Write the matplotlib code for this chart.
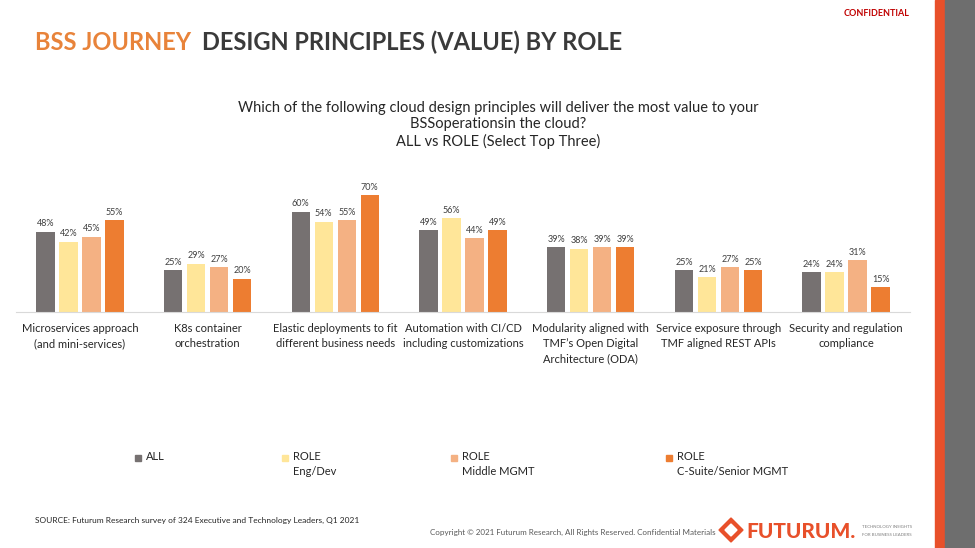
import matplotlib.pyplot as plt
import numpy as np
from matplotlib.patches import Rectangle, Polygon

plt.rcParams['font.family'] = ['Lato', 'DejaVu Sans']

categories = [
    'Microservices approach\n(and mini-services)',
    'K8s container\norchestration',
    'Elastic deployments to fit\ndifferent business needs',
    'Automation with CI/CD\nincluding customizations',
    'Modularity aligned with\nTMF\u2019s Open Digital\nArchitecture (ODA)',
    'Service exposure through\nTMF aligned REST APIs',
    'Security and regulation\ncompliance',
]
all_vals = [48, 25, 60, 49, 39, 25, 24]
eng_dev = [42, 29, 54, 56, 38, 21, 24]
middle_mgmt = [45, 27, 55, 44, 39, 27, 31]
csuite = [55, 20, 70, 49, 39, 25, 15]

series = [all_vals, eng_dev, middle_mgmt, csuite]
series_labels = ['ALL', 'ROLE\nEng/Dev', 'ROLE\nMiddle MGMT', 'ROLE\nC-Suite/Senior MGMT']
colors = ['#767171', '#FFE699', '#F4B183', '#ED7D31']

fig = plt.figure(figsize=(9.75, 5.48), dpi=100)
W, H = 975, 548

# right decoration stripes
fig.patches.append(Rectangle((935 / W, 0), 10 / W, 1, transform=fig.transFigure, color='#E8502A', zorder=0))
fig.patches.append(Rectangle((945 / W, 0), 30 / W, 1, transform=fig.transFigure, color='#6E6E6E', zorder=0))

ax = fig.add_axes([16 / W, (H - 312) / H, 894 / W, 142 / H])
x = np.arange(len(categories))
width = 0.145
step = 0.18
for i, (vals, col) in enumerate(zip(series, colors)):
    pos = x + (i - 1.5) * step
    bars = ax.bar(pos, vals, width, color=col)
    for b, v in zip(bars, vals):
        ax.text(b.get_x() + b.get_width() / 2, v + 2, f'{v}%', ha='center', va='bottom',
                fontsize=6.5, color='#404040')

ax.set_xlim(-0.5, len(categories) - 0.5)
ax.set_ylim(0, 85)
ax.set_yticks([])
ax.set_xticks(x)
ax.set_xticklabels(categories, fontsize=8, color='#262626', linespacing=1.45)
ax.tick_params(axis='x', length=0, pad=8)
for s in ['top', 'right', 'left']:
    ax.spines[s].set_visible(False)
ax.spines['bottom'].set_color('#D9D9D9')

# titles
fig.text(35 / W, 1 - 42 / H, 'BSS JOURNEY', fontsize=17, fontweight='bold', color='#E8833A', va='center')
fig.text(202 / W, 1 - 42 / H, 'DESIGN PRINCIPLES (VALUE) BY ROLE', fontsize=17, fontweight='bold',
         color='#3A3A3A', va='center')
fig.text(910 / W, 1 - 14 / H, 'CONFIDENTIAL', fontsize=6.5, fontweight='bold', color='#C00000',
         ha='right', va='center')
fig.text(498 / W, 1 - 125 / H,
         'Which of the following cloud design principles will deliver the most value to your\n'
         'BSSoperationsin the cloud?\nALL vs ROLE (Select Top Three)',
         fontsize=10.5, color='#262626', ha='center', va='center', linespacing=1.25)

# legend
leg_x = [137, 284, 453, 668]
for lx, lab, col in zip(leg_x, series_labels, colors):
    fig.patches.append(Rectangle(((lx - 2) / W, 1 - 461 / H), 6 / W, 6 / H, transform=fig.transFigure,
                                 color=col))
    fig.text((lx + 9) / W, 1 - 451 / H, lab, fontsize=8, color='#262626', va='top', linespacing=1.4)

# footer
fig.text(35 / W, 1 - 520 / H, 'SOURCE: Futurum Research survey of 324 Executive and Technology Leaders, Q1 2021',
         fontsize=6, color='#262626', va='center')
fig.text(430 / W, 1 - 532 / H, 'Copyright \u00a9 2021 Futurum Research, All Rights Reserved. Confidential Materials',
         fontsize=5.8, color='#595959', va='center')
cx, cy = 731 / W, 1 - 530 / H
dx, dy = 12 / W, 12 / H
fig.patches.append(Polygon([(cx - dx, cy), (cx, cy + dy), (cx + dx, cy), (cx, cy - dy)], closed=True,
                           transform=fig.transFigure, color='#E8502A'))
fig.patches.append(Polygon([(cx - dx / 2, cy), (cx, cy + dy / 2), (cx + dx / 2, cy), (cx, cy - dy / 2)],
                           closed=True, transform=fig.transFigure, color='white'))
fig.text(746 / W, 1 - 531 / H, 'FUTURUM.', fontsize=15, fontweight='black', color='#E8502A', va='center')
fig.text(862 / W, 1 - 527 / H, 'TECHNOLOGY INSIGHTS', fontsize=3.2, color='#7F7F7F', va='center')
fig.text(862 / W, 1 - 535 / H, 'FOR BUSINESS LEADERS', fontsize=3.2, color='#7F7F7F', va='center')

fig.savefig('out.png', dpi=100)
